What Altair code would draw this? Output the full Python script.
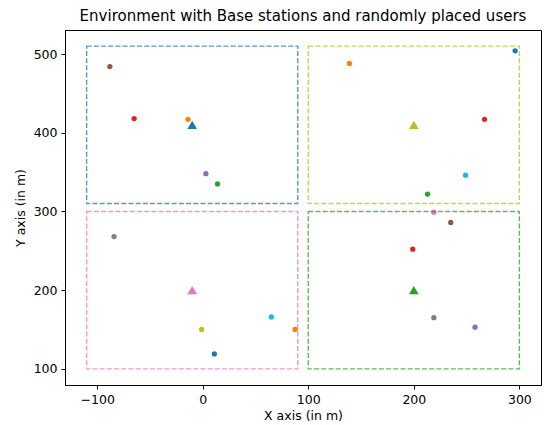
import altair as alt
import pandas as pd

# Users (x, y, colour)
user_x = [-88, -65, -14, 3, 14,
          296, 139, 267, 249, 213,
          -84, -1, 11, 65, 87.5,
          219, 235, 199, 219, 258]
user_y = [484, 418, 417, 348, 335,
          504, 488, 417, 346, 322,
          268, 150, 119, 166, 150,
          299, 286, 252, 165, 153]
user_c = ["#8c564b", "#d62728", "#ff7f0e", "#9467bd", "#2ca02c",
          "#1f77b4", "#ff7f0e", "#d62728", "#17becf", "#2ca02c",
          "#7f7f7f", "#bcbd22", "#1f77b4", "#17becf", "#ff7f0e",
          "#e377c2", "#8c564b", "#d62728", "#7f7f7f", "#9467bd"]

# Base stations
bs_x = [-10, 200, -10, 200]
bs_y = [410, 410, 200, 200]
bs_c = ["#1f77b4", "#bcbd22", "#e377c2", "#2ca02c"]

# Cells (rectangles)
cell_x1 = [-110, 100, -110, 100]
cell_x2 = [90, 300, 90, 300]
cell_y1 = [310, 310, 100, 100]
cell_y2 = [510, 510, 300, 300]

x_ticks = [-100, 0, 100, 200, 300]
y_ticks = [100, 200, 300, 400, 500]

users = pd.DataFrame({"x": user_x, "y": user_y, "c": user_c})
bs = pd.DataFrame({"x": bs_x, "y": bs_y, "c": bs_c})
cells = pd.DataFrame({"x1": cell_x1, "x2": cell_x2, "y1": cell_y1, "y2": cell_y2, "c": bs_c})

FONT = "DejaVu Sans"
minus_expr = "datum.value < 0 ? '\u2212' + format(-datum.value, 'd') : format(datum.value, 'd')"

xscale = alt.Scale(domain=[-130.5, 320.5], nice=False, zero=False)
yscale = alt.Scale(domain=[79.5, 530.5], nice=False, zero=False)

xaxis = alt.Axis(title="X axis (in m)", values=x_ticks, grid=False, labelExpr=minus_expr,
                 tickSize=4, labelPadding=4, titlePadding=4)
yaxis = alt.Axis(title="Y axis (in m)", values=y_ticks, grid=False, labelExpr=minus_expr,
                 tickSize=4, labelPadding=4, titlePadding=6)

pts = alt.Chart(users).mark_point(filled=True, shape="circle", size=28, opacity=1).encode(
    x=alt.X("x:Q", scale=xscale, axis=xaxis),
    y=alt.Y("y:Q", scale=yscale, axis=yaxis),
    color=alt.Color("c:N", scale=None),
)

tri = alt.Chart(bs).mark_point(filled=True, shape="triangle-up", size=95, opacity=1).encode(
    x=alt.X("x:Q", scale=xscale, axis=xaxis),
    y=alt.Y("y:Q", scale=yscale, axis=yaxis),
    color=alt.Color("c:N", scale=None),
)

rects = alt.Chart(cells).mark_rect(fillOpacity=0, strokeWidth=1.4, strokeDash=[5, 2.2], strokeOpacity=0.75).encode(
    x=alt.X("x1:Q", scale=xscale, axis=xaxis),
    x2="x2:Q",
    y=alt.Y("y1:Q", scale=yscale, axis=yaxis),
    y2="y2:Q",
    stroke=alt.Color("c:N", scale=None),
)

chart = alt.layer(pts, tri, rects).properties(
    width=476,
    height=355,
    title=alt.TitleParams("Environment with Base stations and randomly placed users",
                          font=FONT, fontSize=15, fontWeight="normal", color="black", offset=6),
    autosize=alt.AutoSizeParams(type="none"),
    padding={"left": 57, "top": 22, "right": 3, "bottom": 40},
).configure_view(
    stroke="black", strokeWidth=1
).configure_axis(
    labelFont=FONT, titleFont=FONT, labelFontSize=12.5, titleFontSize=12.5,
    labelColor="black", titleColor="black", titleFontWeight="normal",
    domainColor="black", tickColor="black", domainWidth=1, tickWidth=1,
)

chart.save("out.html", embed_options={"renderer": "svg", "actions": False})
